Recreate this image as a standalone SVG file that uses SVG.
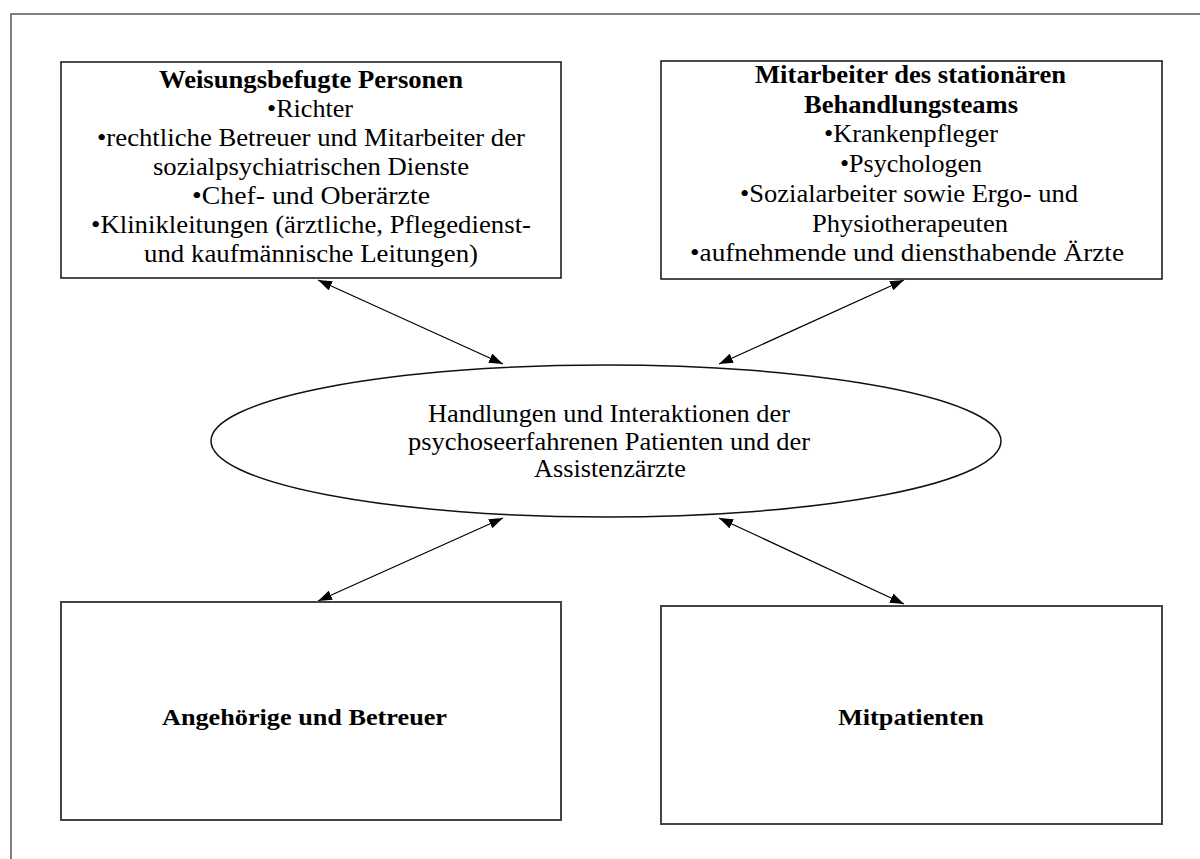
<svg xmlns="http://www.w3.org/2000/svg" width="1200" height="859" viewBox="0 0 1200 859">
  <style>
    .frame { fill: none; stroke: #555; stroke-width: 1.5; }
    .box { fill: #fff; stroke: #111; stroke-width: 1.5; }
    .box2 { fill: #fff; stroke: #444; stroke-width: 2; }
    .oval { fill: #fff; stroke: #111; stroke-width: 1.5; }
    .t { font-family: "Liberation Serif", "Times New Roman", serif; font-size: 26px; fill: #000; text-anchor: middle; }
    .b { font-weight: bold; }
    .e { font-size: 26px; }
    .s { font-size: 23px; }
    .link { stroke: #000; stroke-width: 1.2; fill: none; marker-start: url(#head); marker-end: url(#head); }
  </style>
  <defs>
    <marker id="head" viewBox="0 0 14 10" refX="14" refY="5" markerWidth="14" markerHeight="10" markerUnits="userSpaceOnUse" orient="auto-start-reverse">
      <path d="M0,0 L14,5 L0,10 Z" fill="#000"/>
    </marker>
  </defs>
  <rect width="1200" height="859" fill="#fff"/>
  <!-- page frame -->
  <path class="frame" d="M1200,14 H11 V859"/>

  <g id="connectors">
    <line class="link" x1="318" y1="280" x2="503" y2="364"/>
    <line class="link" x1="904" y1="280" x2="719" y2="364"/>
    <line class="link" x1="503" y1="518" x2="318" y2="601"/>
    <line class="link" x1="719" y1="518" x2="904" y2="604"/>
  </g>

  <g id="weisungsbefugte">
    <rect class="box" x="61" y="62" width="500" height="216"/>
    <text class="t b" x="311" y="87.5" textLength="304" lengthAdjust="spacingAndGlyphs">Weisungsbefugte Personen</text>
    <text class="t" x="310" y="116.6" textLength="86" lengthAdjust="spacingAndGlyphs">•Richter</text>
    <text class="t" x="311" y="145.7" textLength="428" lengthAdjust="spacingAndGlyphs">•rechtliche Betreuer und Mitarbeiter der</text>
    <text class="t" x="311" y="174.8" textLength="316" lengthAdjust="spacingAndGlyphs">sozialpsychiatrischen Dienste</text>
    <text class="t" x="311" y="203.9" textLength="238" lengthAdjust="spacingAndGlyphs">•Chef- und Oberärzte</text>
    <text class="t" x="311" y="233" textLength="440" lengthAdjust="spacingAndGlyphs">•Klinikleitungen (ärztliche, Pflegedienst-</text>
    <text class="t" x="311" y="262.1" textLength="334" lengthAdjust="spacingAndGlyphs">und kaufmännische Leitungen)</text>
  </g>

  <g id="behandlungsteam">
    <rect class="box" x="661" y="61" width="501" height="218"/>
    <text class="t b" x="910.5" y="83" textLength="311" lengthAdjust="spacingAndGlyphs">Mitarbeiter des stationären</text>
    <text class="t b" x="911" y="112.7" textLength="214" lengthAdjust="spacingAndGlyphs">Behandlungsteams</text>
    <text class="t" x="911" y="142.4" textLength="174" lengthAdjust="spacingAndGlyphs">•Krankenpfleger</text>
    <text class="t" x="911" y="172.1" textLength="142" lengthAdjust="spacingAndGlyphs">•Psychologen</text>
    <text class="t" x="909" y="201.8" textLength="338" lengthAdjust="spacingAndGlyphs">•Sozialarbeiter sowie Ergo- und</text>
    <text class="t" x="910" y="231.5" textLength="196" lengthAdjust="spacingAndGlyphs">Physiotherapeuten</text>
    <text class="t" x="907" y="261.2" textLength="434" lengthAdjust="spacingAndGlyphs">•aufnehmende und diensthabende Ärzte</text>
  </g>

  <g id="handlungen">
    <ellipse class="oval" cx="606" cy="441" rx="395" ry="76"/>
    <text class="t e" x="609" y="422" textLength="362" lengthAdjust="spacingAndGlyphs">Handlungen und Interaktionen der</text>
    <text class="t e" x="609" y="450" textLength="402" lengthAdjust="spacingAndGlyphs">psychoseerfahrenen Patienten und der</text>
    <text class="t e" x="610" y="477" textLength="152" lengthAdjust="spacingAndGlyphs">Assistenzärzte</text>
  </g>

  <g id="angehoerige">
    <rect class="box2" x="61" y="602" width="500" height="218"/>
    <text class="t b s" x="304.5" y="725" textLength="285" lengthAdjust="spacingAndGlyphs">Angehörige und Betreuer</text>
  </g>

  <g id="mitpatienten">
    <rect class="box2" x="661" y="606" width="501" height="218"/>
    <text class="t b s" x="911" y="725" textLength="146" lengthAdjust="spacingAndGlyphs">Mitpatienten</text>
  </g>
</svg>
